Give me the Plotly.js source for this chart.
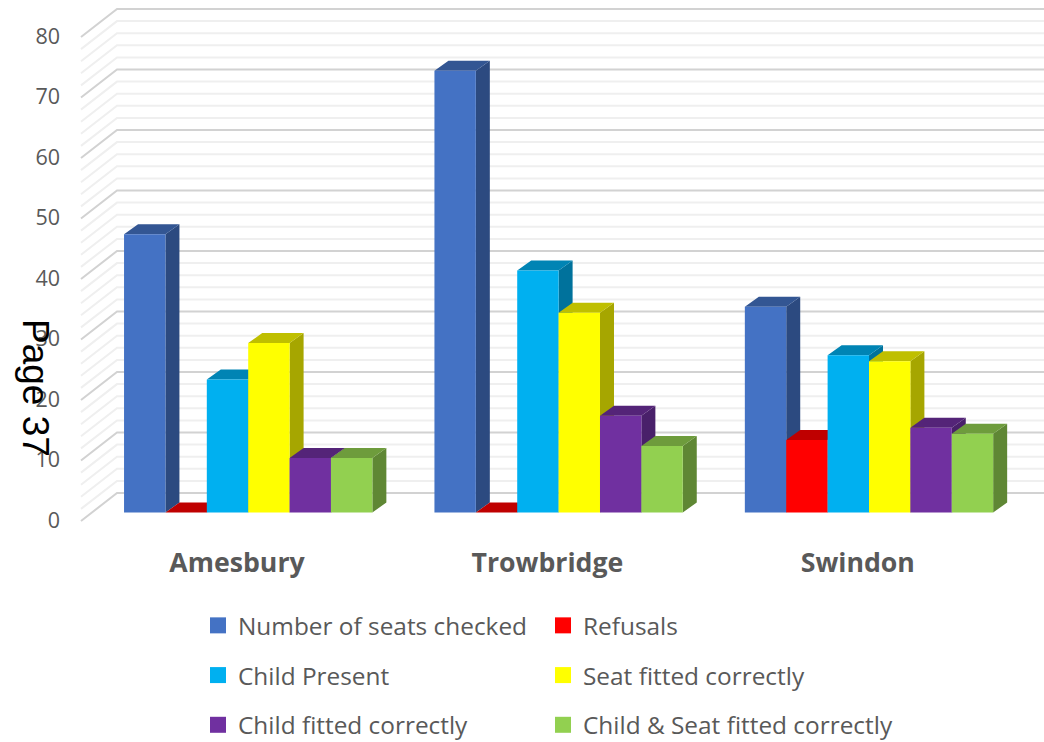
<!DOCTYPE html>
<html>
<head>
<meta charset="utf-8">
<script src="https://cdn.plot.ly/plotly-3.0.1.min.js"></script>
<style>html,body{margin:0;padding:0;background:#fff}</style>
</head>
<body>
<div id="chart" style="width:1044px;height:742px"></div>
<script>
const categories = ['Amesbury', 'Trowbridge', 'Swindon'];
const seatsChecked = [46, 73, 34];
const refusals = [0, 0, 12];
const childPresent = [22, 40, 26];
const seatFitted = [28, 33, 25];
const childFitted = [9, 16, 14];
const bothFitted = [9, 11, 13];
const seriesNames = ['Number of seats checked', 'Refusals', 'Child Present',
  'Seat fitted correctly', 'Child fitted correctly', 'Child & Seat fitted correctly'];
const seriesValues = [seatsChecked, refusals, childPresent, seatFitted, childFitted, bothFitted];
const frontColors = ['#4472C4', '#FF0000', '#00B0F0', '#FFFF00', '#7030A0', '#92D050'];
const topColors = ['#335693', '#BF0000', '#0084B4', '#BFBF00', '#542478', '#6E9C3C'];
const sideColors = ['#2C4A80', '#A60000', '#00729C', '#A6A600', '#49206A', '#5F8734'];
const axisTicks = [0, 10, 20, 30, 40, 50, 60, 70, 80];
const minorTicks = [2, 4, 6, 8, 12, 14, 16, 18, 22, 24, 26, 28, 32, 34, 36, 38, 42, 44, 46, 48,
  52, 54, 56, 58, 62, 64, 66, 68, 72, 74, 76, 78];

// geometry of the picture, in pixels
const W = 1044, H = 742, L = 61, B = 544;
const pxX = 310.4, pxY = 6.05;         // pixels per category, pixels per value unit
const barCx = 248.2, barY0 = 512.5;    // first bar group centre, bar baseline
const wallCx = 237, wallY0 = 520;      // where the tick labels sit
const rangeFor = (c) => [(L - c) / pxX, (W - c) / pxX];
const yRangeFor = (y0) => [(y0 - B) / pxY, y0 / pxY];
const barRangeX = rangeFor(barCx), barRangeY = yRangeFor(barY0);

const groupWidth = 0.8, barW = groupWidth / 6;
const depthX = 14 / pxX, depthY = 10 / pxY;

const wallFrontX = (81 - wallCx) / pxX, wallBackX = (117 - wallCx) / pxX, wallEndX = (W - wallCx) / pxX;
const wallFrontDy = -1 / pxY, wallBackDy = 27 / pxY;

function wallTrace(ticks, color, width) {
  const x = [], y = [];
  ticks.forEach(v => {
    x.push(wallFrontX, wallBackX, wallEndX, null);
    y.push(v + wallFrontDy, v + wallBackDy, v + wallBackDy, null);
  });
  return {type: 'scatter', mode: 'lines', x, y, xaxis: 'x', yaxis: 'y', showlegend: false,
    hoverinfo: 'skip', line: {color, width}, cliponaxis: false};
}

const traces = [wallTrace(minorTicks, '#EFEFEF', 2), wallTrace(axisTicks, '#D2D2D2', 2)];

// side and top faces of the bars, underneath all front faces
seriesValues.forEach((vals, j) => {
  const sx = [], sy = [], tx = [], ty = [];
  vals.forEach((v, i) => {
    const x0 = i - groupWidth / 2 + j * barW, x1 = x0 + barW;
    sx.push(x1, x1 + depthX, x1 + depthX, x1, x1, null);
    sy.push(0, depthY, v + depthY, v, 0, null);
    tx.push(x0, x0 + depthX, x1 + depthX, x1, x0, null);
    ty.push(v, v + depthY, v + depthY, v, v, null);
  });
  [[sx, sy, sideColors[j]], [tx, ty, topColors[j]]].forEach(([x, y, c]) => {
    traces.push({type: 'scatter', mode: 'lines', x, y, xaxis: 'x2', yaxis: 'y2', fill: 'toself',
      fillcolor: c, line: {width: 0, color: c}, showlegend: false, hoverinfo: 'skip'});
  });
});

// front faces
seriesValues.forEach((vals, j) => {
  traces.push({type: 'bar', name: seriesNames[j], x: categories.map((_, i) => i), y: vals,
    xaxis: 'x3', yaxis: 'y3', width: barW, offset: -groupWidth / 2 + j * barW,
    marker: {color: frontColors[j], line: {width: 0}}, showlegend: false});
});

// legend entries
seriesNames.forEach((n, j) => {
  traces.push({type: 'scatter', mode: 'markers', name: n, x: [null], y: [null], xaxis: 'x', yaxis: 'y',
    marker: {symbol: 'square', size: 16, color: frontColors[j]},
    legend: j % 2 ? 'legend2' : 'legend', legendgroup: 'g' + j, hoverinfo: 'skip'});
});

const legendBase = {xref: 'paper', yref: 'paper', xanchor: 'left', yanchor: 'top',
  y: (B - 603) / B, tracegroupgap: 15, bgcolor: 'rgba(0,0,0,0)', traceorder: 'grouped',
  font: {family: 'Open Sans', size: 24.4, color: '#595959'}, itemclick: false, itemdoubleclick: false};

const hiddenAxis = (range, over) => ({range, overlaying: over, visible: false, fixedrange: true});

const layout = {
  width: W, height: H, margin: {l: L, r: 0, t: 0, b: H - B, pad: 0, autoexpand: false},
  paper_bgcolor: '#fff', plot_bgcolor: 'rgba(0,0,0,0)', showlegend: true,
  font: {family: 'Open Sans', color: '#595959'},
  xaxis: {range: rangeFor(wallCx), tickmode: 'array', tickvals: categories.map((_, i) => i), ticktext: categories,
    showgrid: false, zeroline: false, showline: false, ticks: '', fixedrange: true, tickangle: 0,
    tickfont: {family: 'Open Sans', size: 26.7, color: '#595959', weight: 'bold'}},
  yaxis: {range: yRangeFor(wallY0), tickmode: 'array', tickvals: axisTicks, showgrid: false, zeroline: false,
    showline: false, ticks: '', fixedrange: true,
    tickfont: {family: 'Open Sans', size: 21.5, color: '#595959'}},
  xaxis2: hiddenAxis(barRangeX, 'x'), yaxis2: hiddenAxis(barRangeY, 'y'),
  xaxis3: hiddenAxis(barRangeX, 'x'), yaxis3: hiddenAxis(barRangeY, 'y'),
  legend: Object.assign({}, legendBase, {x: (198 - L) / (W - L)}),
  legend2: Object.assign({}, legendBase, {x: (543 - L) / (W - L)}),
  annotations: [{text: 'Page 37', xref: 'paper', yref: 'paper', x: (36 - L) / (W - L), y: 1 - 388 / B,
    xanchor: 'center', yanchor: 'middle', showarrow: false, textangle: 90,
    font: {family: 'Liberation Sans', size: 37, color: '#000'}}]
};

Plotly.newPlot('chart', traces, layout, {displayModeBar: false, responsive: false});
</script>
</body>
</html>
